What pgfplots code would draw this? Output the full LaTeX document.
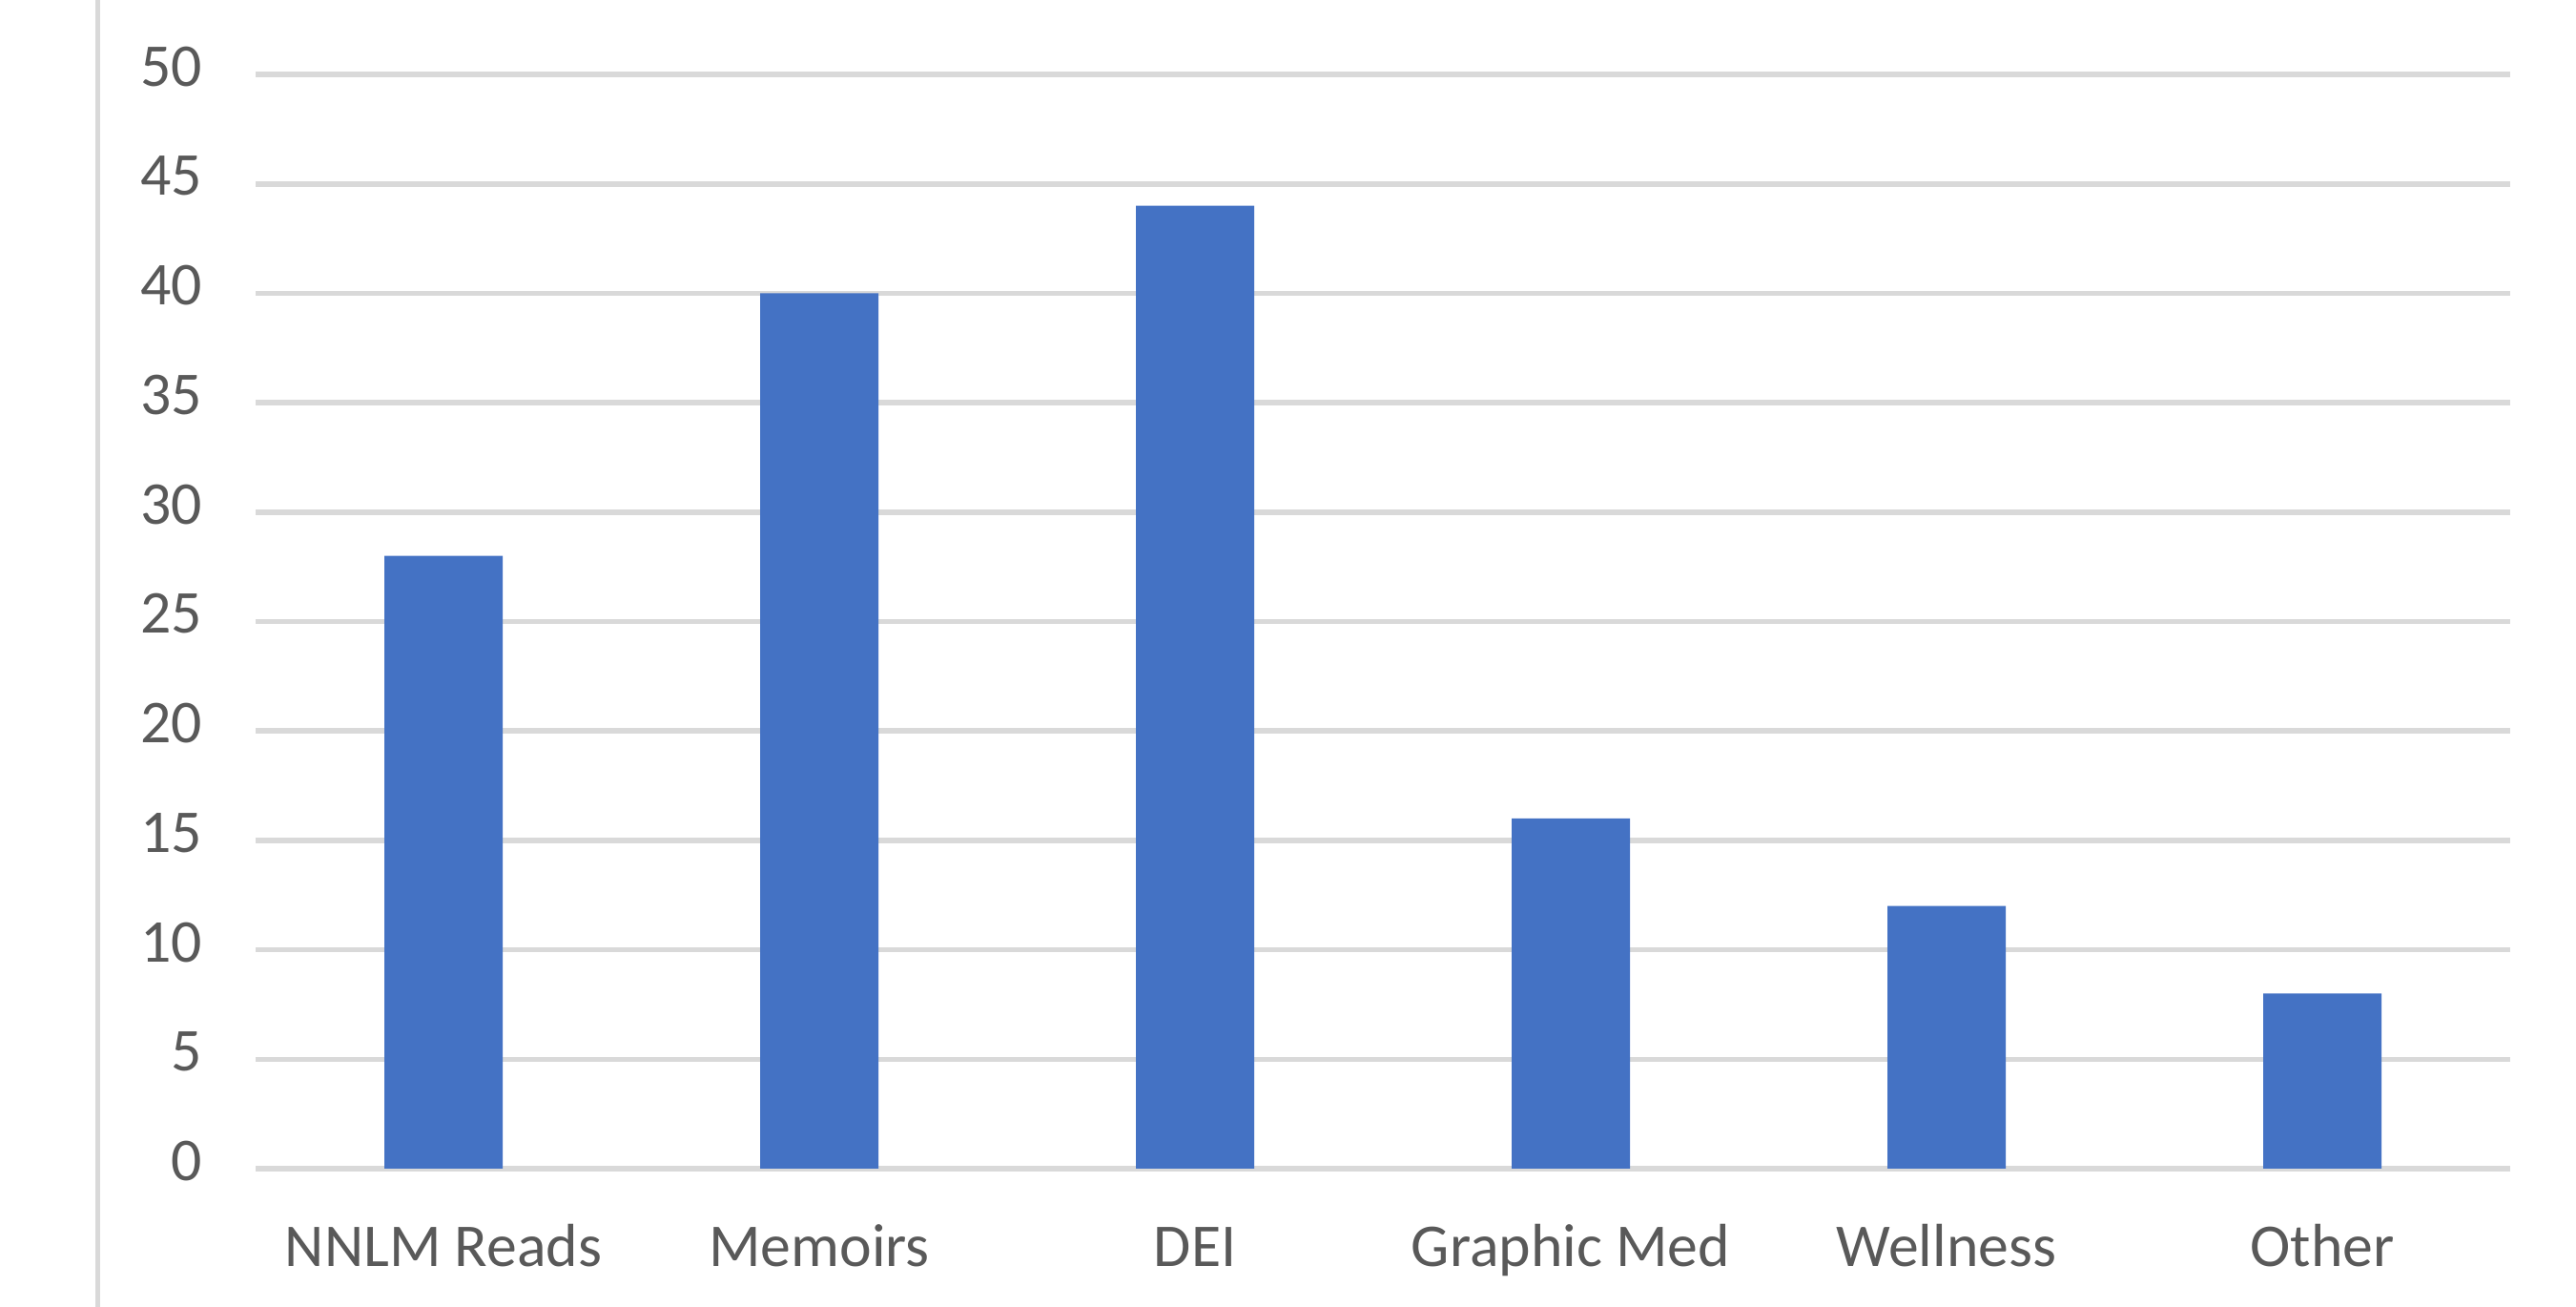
\documentclass[border=0pt]{standalone}
\usepackage{pgfplots}
\pgfplotsset{compat=1.18}
\usepackage{fontspec}
\setmainfont{Carlito}
\definecolor{barblue}{HTML}{4472C4}
\definecolor{gridgray}{HTML}{D9D9D9}
\definecolor{labelgray}{HTML}{595959}
\begin{document}
\begin{tikzpicture}
\useasboundingbox (0,0) rectangle (675.25bp,342.5bp);
\draw[gridgray, line width=1.25bp] (25.625bp,0) -- (25.625bp,342.5bp);
\begin{axis}[
  at={(67bp,36.25bp)}, anchor=south west,
  scale only axis, width=591bp, height=286.75bp,
  xmin=-0.5, xmax=5.5, ymin=0, ymax=50,
  axis line style={draw=none},
  ytick={0,5,...,50}, xtick={0,...,5},
  xticklabels={NNLM Reads,Memoirs,DEI,Graphic Med,Wellness,Other},
  major tick length=0,
  ymajorgrids, grid style={gridgray, line width=1.4bp},
  ybar, bar width=31bp,
  /pgf/number format/assume math mode=true,
  ticklabel style={font=\fontsize{16}{19}\selectfont, text=labelgray},
  yticklabel style={anchor=east, inner sep=0pt, xshift=-13.75bp, yshift=2bp},
  xticklabel style={anchor=base, inner sep=0pt, yshift=-25.5bp},
]
\addplot[fill=barblue, draw=none] coordinates {(0,28) (1,40) (2,44) (3,16) (4,12) (5,8)};
\end{axis}
\end{tikzpicture}
\end{document}
